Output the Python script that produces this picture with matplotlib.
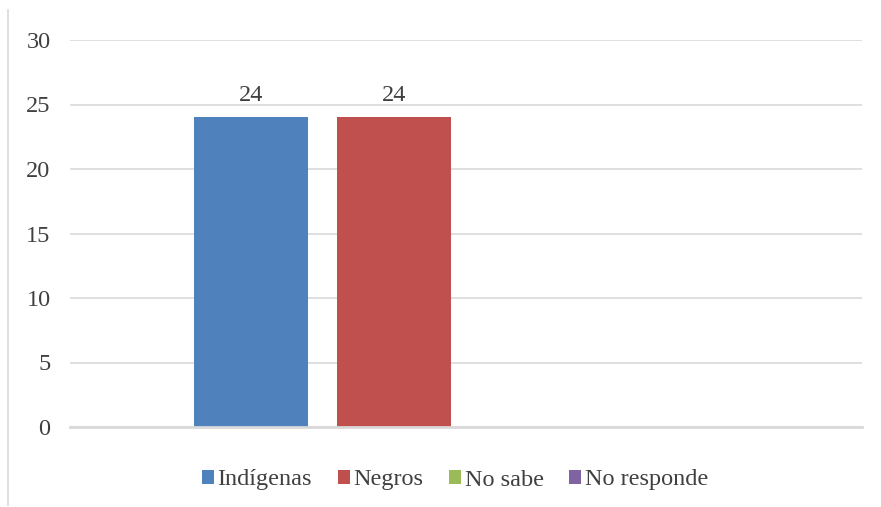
import matplotlib
matplotlib.use("Agg")
import matplotlib.pyplot as plt
from matplotlib.lines import Line2D
from matplotlib.patches import Patch

series = ["Indígenas", "Negros", "No sabe", "No responde"]
values = [24, 24, 0, 0]
colors = ["#4f81bd", "#c0504d", "#9bbb59", "#8064a2"]
yticks = [0, 5, 10, 15, 20, 25, 30]

plt.rcParams["font.family"] = ["Liberation Serif", "DejaVu Serif"]

fig = plt.figure(figsize=(8.81, 5.07), dpi=100)
ax = fig.add_axes([70 / 881, 80 / 507, 792 / 881, 387 / 507])

step = 143 / 114
xs = [i * step for i in range(len(series))]
bars = ax.bar(xs, values, width=1.0, color=colors, zorder=3)
for x, v in zip(xs, values):
    if v > 0:
        ax.text(x, v + 0.9, str(v), ha="center", va="bottom", fontsize=17.5, color="#404040")

left = -0.5 - 124 / 114
ax.set_xlim(left, left + 792 / 114)
ax.set_ylim(0, 30)
ax.set_yticks(yticks)
ax.set_xticks([])
ax.yaxis.grid(True, color="#d9d9d9", lw=1.2, zorder=0)
for s in ["top", "right", "left"]:
    ax.spines[s].set_visible(False)
ax.spines["bottom"].set_color("#d9d9d9")
ax.spines["bottom"].set_linewidth(2)
ax.spines["bottom"].set_zorder(4)
ax.tick_params(axis="y", length=0, pad=14, labelsize=17.5, labelcolor="#404040")

handles = [Patch(facecolor=c, edgecolor="none") for c in colors]
fig.legend(handles, series, loc="center", bbox_to_anchor=(455 / 881, 1 - 480 / 507),
           ncol=4, frameon=False, fontsize=17.5, handlelength=0.5, handleheight=0.5,
           handletextpad=0.15, columnspacing=1.05, labelcolor="#404040")

fig.add_artist(Line2D([8 / 881, 8 / 881], [1 - 10 / 507, 1 - 505 / 507],
                      transform=fig.transFigure, color="#d9d9d9", lw=1.2))

fig.savefig("out.png", dpi=100)
